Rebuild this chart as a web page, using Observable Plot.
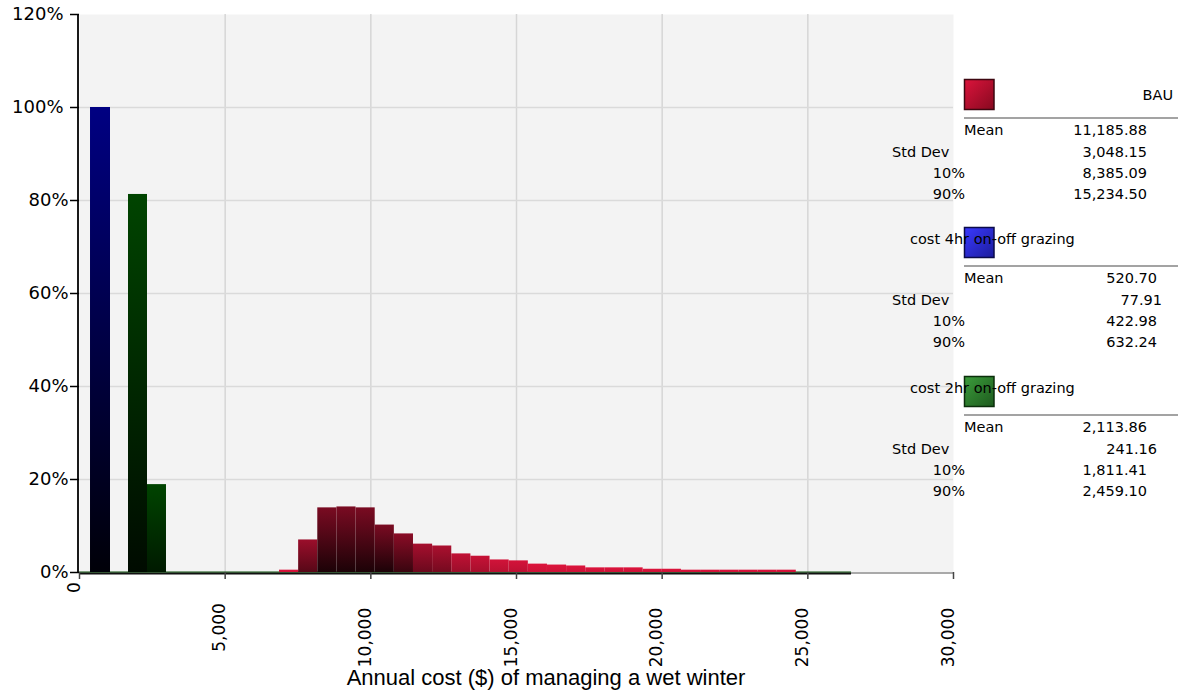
<!DOCTYPE html>
<html>
<head>
<meta charset="utf-8">
<script src="https://cdn.jsdelivr.net/npm/d3@7"></script>
<script src="https://cdn.jsdelivr.net/npm/@observablehq/plot@0.6"></script>
<style>
  html, body { margin: 0; padding: 0; background: #fff; }
  #chart { width: 1178px; height: 699px; overflow: hidden; }
  #chart svg { display: block; }
</style>
</head>
<body>
<div id="chart"></div>
<script>
// ---- Simulation output: percent of iterations falling in each cost bin ----
const seriesNames = ["BAU", "cost 4hr on-off grazing", "cost 2hr on-off grazing"];

// BAU: first bin start ($), bin width ($), percent per bin
const bauBinStart = 6865;
const bauBinWidth = 657;
const bauPercent = [0.5, 7.0, 13.9, 14.1, 13.9, 10.2, 8.3, 6.1, 5.7, 4.0, 3.5, 2.7, 2.5,
                    1.8, 1.6, 1.4, 1.0, 1.0, 1.0, 0.7, 0.7, 0.5, 0.5, 0.5, 0.5, 0.5, 0.5];

// 4 hour on-off grazing
const grazing4BinStart = 378;
const grazing4BinWidth = 686;
const grazing4Percent = [100];

// 2 hour on-off grazing
const grazing2BinStart = 1682;
const grazing2BinWidth = 652;
const grazing2Percent = [81.3, 18.9];

// upper end of the (empty) histogram bins shared by all series
const emptyBinsEnd = 26500;

// summary statistics shown beside the chart
const statLabels = ["Mean", "Std Dev", "10%", "90%"];
const bauStats = [11185.88, 3048.15, 8385.09, 15234.50];
const grazing4Stats = [520.70, 77.91, 422.98, 632.24];
const grazing2Stats = [2113.86, 241.16, 1811.41, 2459.10];

// axes
const xTicks = [0, 5000, 10000, 15000, 20000, 25000, 30000];
const yTicks = [0, 20, 40, 60, 80, 100, 120];
const xTitle = "Annual cost ($) of managing a wet winter";

// ---- colours ----
const crimson = "#dc143c";
const bauDarkTop = "#7a0b22";
const bauDarkBottom = "#1c0207";

function bins(series, start, width, pcts) {
  return pcts.map((p, i) => ({series, x1: start + i * width, x2: start + (i + 1) * width, pct: p}));
}

const rows = [
  ...bins(seriesNames[1], grazing4BinStart, grazing4BinWidth, grazing4Percent),
  ...bins(seriesNames[2], grazing2BinStart, grazing2BinWidth, grazing2Percent),
  ...bins(seriesNames[0], bauBinStart, bauBinWidth, bauPercent)
];

// per-bar vertical gradient: top colour -> bottom colour
const bauMax = d3.max(bauPercent);
rows.forEach((d, i) => {
  d.fill = `url(#bar-grad-${i})`;
  if (d.series === seriesNames[0]) {
    const t = d.pct / bauMax;
    const f = Math.max(0, Math.min(1, (t - 0.13) / 0.55));
    d.top = d3.interpolateRgb(crimson, bauDarkTop)(f);
    d.bottom = d3.interpolateRgb(crimson, bauDarkBottom)(0.08 + 0.92 * f);
  } else if (d.series === seriesNames[1]) {
    d.top = "#000082";
    d.bottom = "#000008";
  } else {
    const t = d.pct / 100;
    d.top = "#004400";
    d.bottom = d3.interpolateRgb("#004400", "#000600")(0.6 + 0.4 * t);
  }
});

const fmtX = d3.format(",");
const xLabelGroups = d3.groups(xTicks, d => fmtX(d).length);

const plot = Plot.plot({
  width: 1178,
  height: 699,
  marginLeft: 79,
  marginRight: 225,
  marginTop: 14,
  marginBottom: 127,
  style: {fontFamily: "'DejaVu Sans', sans-serif", fontSize: "17px", background: "transparent", color: "#000", overflow: "visible"},
  x: {domain: [0, 30000]},
  y: {domain: [0, 120]},
  color: {type: "identity"},
  marks: [
    Plot.frame({fill: "#f3f3f3", stroke: "none"}),
    Plot.gridX(xTicks.slice(1, -1), {stroke: "#d6d6d6", strokeOpacity: 1, strokeWidth: 1.5}),
    Plot.gridY(yTicks.slice(1, -1), {stroke: "#dadada", strokeOpacity: 1, strokeWidth: 1.5}),
    Plot.ruleY([0], {stroke: "#a9a9a9", strokeWidth: 2, dy: 0.5}),
    Plot.ruleY([0], {x1: 0, x2: emptyBinsEnd, stroke: "#111", strokeWidth: 2, dy: 1}),
    Plot.ruleY([0], {x1: 0, x2: emptyBinsEnd, stroke: "#0b4d0b", strokeWidth: 1, dy: -0.5}),
    Plot.rectY(rows, {x1: "x1", x2: "x2", y: "pct", fill: "fill"}),
    Plot.ruleX([0], {stroke: "#1a1a1a", strokeWidth: 2, dx: -1.5}),
    Plot.axisX({ticks: xTicks, tickSize: 7, tickFormat: () => "", stroke: "#444", strokeWidth: 1.5, label: null}),
    ...xLabelGroups.map(([len, ticks]) =>
      Plot.text(ticks, {x: d => d, text: d => fmtX(d), frameAnchor: "bottom", rotate: -90,
                        textAnchor: "middle", dy: 5 + 10 * len, fontSize: 17})),
    Plot.axisY({ticks: yTicks.slice(0, 5), tickSize: 9, tickPadding: 2, tickFormat: d => d + "%",
                fontSize: 18, label: null, strokeWidth: 1.5}),
    Plot.axisY({ticks: yTicks.slice(5), tickSize: 9, tickPadding: 7, tickFormat: d => d + "%",
                fontSize: 18, label: null, strokeWidth: 1.5}),
    Plot.text([xTitle], {frameAnchor: "bottom", dx: 29.5, dy: 112, fontSize: 22,
                         fontFamily: "'Liberation Sans', Arial, sans-serif"})
  ]
});

const svg = d3.select(plot);
const defs = svg.insert("defs", ":first-child");
rows.forEach((d, i) => {
  const g = defs.append("linearGradient").attr("id", `bar-grad-${i}`)
    .attr("x1", 0).attr("y1", 0).attr("x2", 0).attr("y2", 1);
  g.append("stop").attr("offset", "0%").attr("stop-color", d.top);
  g.append("stop").attr("offset", "100%").attr("stop-color", d.bottom);
});

// ---- statistics legend on the right ----
const legendSwatches = [
  {from: "#dc143c", to: "#86091f", border: "#3d0710"},
  {from: "#3a3aff", to: "#1c1c9c", border: "#0b0b4a"},
  {from: "#3c9c3c", to: "#1d5a1d", border: "#0b2e0b"}
];
const legendStats = [bauStats, grazing4Stats, grazing2Stats];
const blockTops = [79, 227, 376];
const rowOffsets = [51, 72.5, 93.5, 114.5];
const fmtStat = d3.format(",.2f");

const legend = svg.append("g")
  .attr("font-family", "'DejaVu Sans', sans-serif")
  .attr("font-size", 14.5)
  .attr("fill", "#000");

seriesNames.forEach((name, i) => {
  const top = blockTops[i];
  const sw = legendSwatches[i];
  const gid = `swatch-grad-${i}`;
  const g = defs.append("linearGradient").attr("id", gid)
    .attr("x1", 0).attr("y1", 0).attr("x2", 1).attr("y2", 1);
  g.append("stop").attr("offset", "0%").attr("stop-color", sw.from);
  g.append("stop").attr("offset", "100%").attr("stop-color", sw.to);

  legend.append("rect")
    .attr("x", 964.5).attr("y", top + 0.5).attr("width", 29.5).attr("height", 30)
    .attr("fill", `url(#${gid})`).attr("stroke", sw.border).attr("stroke-width", 1.5);

  if (i === 0) {
    legend.append("text").attr("x", 1173).attr("y", top + 16).attr("dy", "0.35em")
      .attr("text-anchor", "end").text(name);
  } else {
    legend.append("text").attr("x", 910).attr("y", top + 12).attr("dy", "0.35em")
      .attr("text-anchor", "start").text(name);
  }

  legend.append("line")
    .attr("x1", 964).attr("x2", 1178).attr("y1", top + 39).attr("y2", top + 39)
    .attr("stroke", "#a3a3a3").attr("stroke-width", 2);

  statLabels.forEach((lab, j) => {
    const y = top + rowOffsets[j];
    const t = legend.append("text").attr("y", y).attr("dy", "0.35em").text(lab);
    if (j === 0) t.attr("x", 964).attr("text-anchor", "start");
    else if (j === 1) t.attr("x", 892).attr("text-anchor", "start");
    else t.attr("x", 965).attr("text-anchor", "end");

    const s = fmtStat(legendStats[i][j]);
    legend.append("text")
      .attr("x", 1147 + Math.max(0, 8 - s.length) * 5)
      .attr("y", y).attr("dy", "0.35em")
      .attr("text-anchor", "end").text(s);
  });
});

document.getElementById("chart").appendChild(plot);
</script>
</body>
</html>
